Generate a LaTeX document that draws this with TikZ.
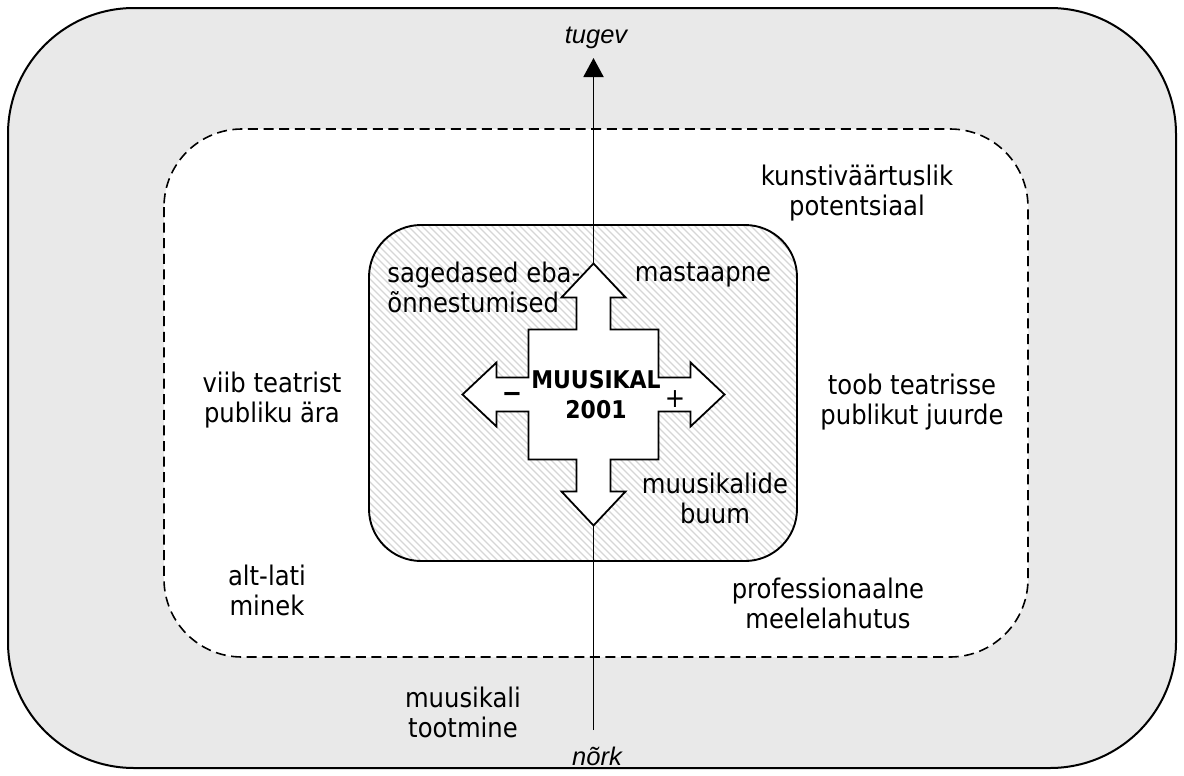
\documentclass[tikz,border=0pt]{standalone}
\usepackage{fontspec}
\setmainfont{DejaVu Sans Condensed}
\newfontfamily\axisfont{Liberation Sans}
\usetikzlibrary{arrows.meta}
\definecolor{outerfill}{HTML}{E9E9E9}
\definecolor{hatchline}{HTML}{D6D6D6}

\begin{document}
\begin{tikzpicture}[x=0.5pt,y=-0.5pt,
  lbl/.style={font=\fontsize{13.5}{15}\selectfont, align=center, inner sep=0pt},
  lbll/.style={lbl, align=left},
  boldlbl/.style={font=\fontsize{12.2}{15}\selectfont\bfseries, align=center, inner sep=0pt},
  pole/.style={font=\axisfont\itshape\fontsize{12.75}{15}\selectfont, inner sep=0pt},
  axisline/.style={line width=0.95pt, -{Triangle[length=9.5pt,width=10pt]}},
  crossshape/.style={fill=white, draw=black, line width=0.9pt, line join=miter}]

% page frame
\useasboundingbox (0,0) rectangle (1184,776);

% outer field
\draw[fill=outerfill, line width=1pt, rounded corners=63pt] (8,8) rectangle (1176,768);

% dashed zone
\draw[fill=white, line width=0.8pt, dash pattern=on 5pt off 2.8pt, rounded corners=39pt]
  (164,129) rectangle (1028,657);

% hatched core
\begin{scope}
  \clip[rounded corners=26pt] (369,225) rectangle (797,561);
  \fill[white] (369,225) rectangle (797,561);
  \foreach \i in {0,...,110} {
    \draw[hatchline, line width=0.6pt] (369-340+7*\i,225) -- (369-340+7*\i+336,561);
  }
\end{scope}
\draw[line width=0.95pt, rounded corners=26pt] (369,225) rectangle (797,561);

% vertical axis
\coordinate (weak) at (593.5,730);
\coordinate (strong) at (593.5,58);
\draw[axisline] (weak) -- (strong);
\node[pole, anchor=base] (tugev) at (596,43) {tugev};
\node[pole, anchor=base] (nork) at (597,765) {nõrk};

% four-way arrow
\begin{scope}[shift={(593.5,394.5)}]
  \draw[crossshape]
    (0,-131) -- (32,-97) -- (17,-97) -- (17,-65) -- (65,-65) -- (65,-17) -- (97,-17)
    -- (97,-32) -- (131,0) -- (97,32) -- (97,17) -- (65,17) -- (65,65) -- (17,65)
    -- (17,97) -- (32,97) -- (0,131) -- (-32,97) -- (-17,97) -- (-17,65) -- (-65,65)
    -- (-65,17) -- (-97,17) -- (-97,32) -- (-131,0) -- (-97,-32) -- (-97,-17)
    -- (-65,-17) -- (-65,-65) -- (-17,-65) -- (-17,-97) -- (-32,-97) -- cycle;
\end{scope}

\node[boldlbl] (center) at (596,395) {MUUSIKAL\\2001};
\node[lbl, font=\fontsize{13.5}{15}\selectfont\bfseries] (minus) at (512,397) {−};
\node[lbl] (plus) at (675,399) {+};

% labels inside the core
\node[lbll, anchor=west] (failures) at (387,287) {sagedased eba-\\õnnestumised};
\node[lbl, anchor=base] (scale) at (703,281) {mastaapne};
\node[lbl] (boom) at (715,498) {muusikalide\\buum};

% labels in the dashed zone
\node[lbl] (potential) at (857,193) {kunstiväärtuslik\\potentsiaal};
\node[lbl] (drive) at (272,400) {viib teatrist\\publiku ära};
\node[lbl] (bring) at (912,402) {toob teatrisse\\publikut juurde};
\node[lbl] (low) at (267,590) {alt-lati\\minek};
\node[lbl] (prof) at (828,603) {professionaalne\\meelelahutus};

% label in the outer field
\node[lbl] (prod) at (463,712) {muusikali\\tootmine};
\end{tikzpicture}
\end{document}
